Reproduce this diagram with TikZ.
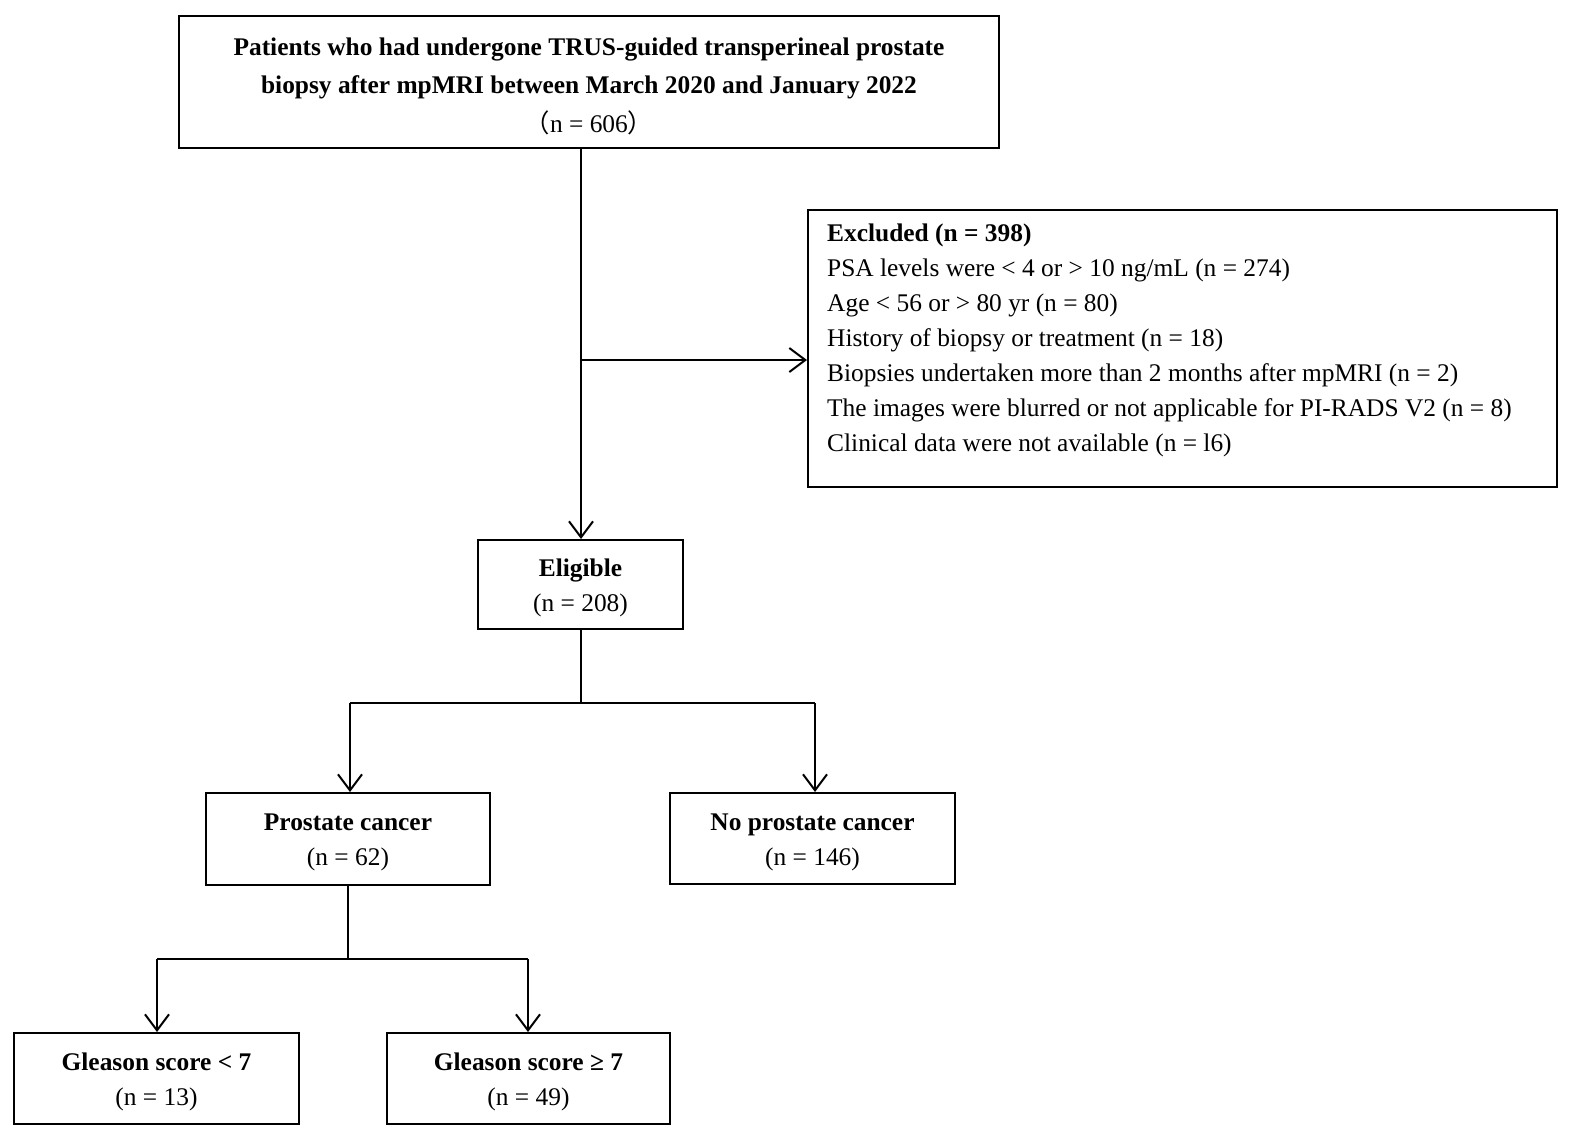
\documentclass[tikz,border=0pt]{standalone}
\usepackage{fontspec}
\setmainfont{Liberation Serif}
\newfontfamily\cjk{Noto Sans CJK SC}
\usetikzlibrary{arrows.meta}
\begin{document}
\begin{tikzpicture}[x=1bp,y=-1bp,
  box/.style={draw,line width=2bp,inner sep=0},
  txt/.style={font=\fontsize{25.5}{30}\selectfont,inner sep=0,anchor=base},
  ln/.style={line width=2bp},
  arr/.style={line width=2bp,-{Straight Barb[length=16bp,width=24bp,line width=2bp]}}]
\useasboundingbox (0,0) rectangle (1584,1144);
\node[box,minimum width=820bp,minimum height=132bp] (top) at (589,82) {};
\node[txt] (t1) at (589,55) {\textbf{Patients who had undergone TRUS-guided transperineal prostate}};
\node[txt] (t2) at (589,93) {\textbf{biopsy after mpMRI between March 2020 and January 2022}};
\node[txt] (t3) at (589,132) {{\cjk （}n = 606{\cjk ）}};
\node[box,minimum width=749bp,minimum height=277bp] (ex) at (1182.5,348.5) {};
\node[txt,align=left,anchor=north west,font=\fontsize{25.5}{35}\selectfont] (ext) at (827,224) {\textbf{Excluded (n = 398)}\\
PSA levels were < 4 or > 10 ng/mL (n = 274)\\
Age < 56 or > 80 yr (n = 80)\\
History of biopsy or treatment (n = 18)\\
Biopsies undertaken more than 2 months after mpMRI (n = 2)\\
The images were blurred or not applicable for PI-RADS V2 (n = 8)\\
Clinical data were not available (n = l6)};
\node[box,minimum width=205bp,minimum height=89bp] (el) at (580.5,584.5) {};
\node[txt] at (580.5,576) {\textbf{Eligible}};
\node[txt] at (580.5,611) {(n = 208)};
\node[box,minimum width=284bp,minimum height=92bp] (pc) at (348,839) {};
\node[txt] at (348,830) {\textbf{Prostate cancer}};
\node[txt] at (348,865) {(n = 62)};
\node[box,minimum width=285bp,minimum height=91bp] (np) at (812.5,838.5) {};
\node[txt] at (812.5,830) {\textbf{No prostate cancer}};
\node[txt] at (812.5,865) {(n = 146)};
\node[box,minimum width=285bp,minimum height=91bp] (g1) at (156.5,1078.5) {};
\node[txt] at (156.5,1070) {\textbf{Gleason score < 7}};
\node[txt] at (156.5,1105) {(n = 13)};
\node[box,minimum width=283bp,minimum height=91bp] (g2) at (528.5,1078.5) {};
\node[txt] at (528.5,1070) {\textbf{Gleason score ≥ 7}};
\node[txt] at (528.5,1105) {(n = 49)};
\coordinate (b1) at (581,360);
\draw[arr] (581,148) -- (el.north -| 581,0);
\draw[arr] (b1) -- (ex.west |- b1);
\coordinate (j1) at (581,703);
\draw[ln] (el.south -| j1) -- (j1);
\draw[ln] (350,703) -- (815,703);
\draw[arr] (350,703) -- (pc.north -| 350,0);
\draw[arr] (815,703) -- (np.north -| 815,0);
\coordinate (j2) at (348,959);
\draw[ln] (pc.south) -- (j2);
\draw[ln] (157,959) -- (528,959);
\draw[arr] (157,959) -- (g1.north -| 157,0);
\draw[arr] (528,959) -- (g2.north -| 528,0);
\end{tikzpicture}
\end{document}
